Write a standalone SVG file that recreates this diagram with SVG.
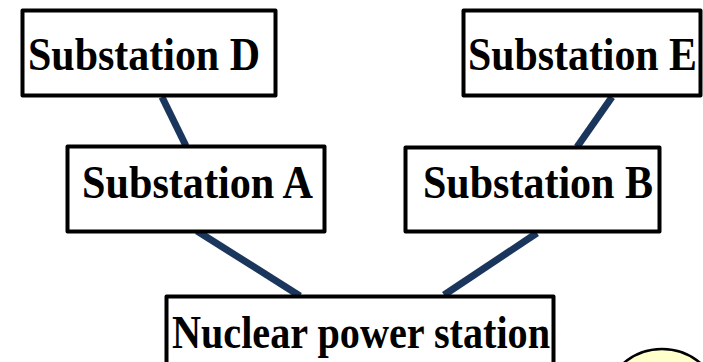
<svg xmlns="http://www.w3.org/2000/svg" width="703" height="362" viewBox="0 0 703 362">
<style>
.box{fill:#fff;stroke:#000;stroke-width:4;stroke-linejoin:round}
.lbl{font-family:"Liberation Serif","Times New Roman",serif;font-weight:bold;font-size:42px;fill:#000}
.wire{stroke:#1b365d;stroke-width:7;stroke-linecap:butt}
</style>
<rect width="703" height="362" fill="#fff"/>
<g id="connectors">
<line class="wire" x1="162" y1="97" x2="186" y2="146"/>
<line class="wire" x1="612" y1="97" x2="577" y2="147"/>
<line class="wire" x1="197" y1="231" x2="300" y2="296"/>
<line class="wire" x1="537" y1="233" x2="444" y2="295"/>
</g>
<g id="substation-d">
<rect class="box" x="22.5" y="10.5" width="253" height="85"/>
<text class="lbl" transform="translate(28,70) scale(1,1.1)" textLength="232" lengthAdjust="spacingAndGlyphs">Substation D</text>
</g>
<g id="substation-e">
<rect class="box" x="463.5" y="10.5" width="237" height="85"/>
<text class="lbl" transform="translate(468,70) scale(1,1.1)" textLength="229" lengthAdjust="spacingAndGlyphs">Substation E</text>
</g>
<g id="substation-a">
<rect class="box" x="67.5" y="146.5" width="257" height="85"/>
<text class="lbl" transform="translate(82,198) scale(1,1.1)" textLength="231" lengthAdjust="spacingAndGlyphs">Substation A</text>
</g>
<g id="substation-b">
<rect class="box" x="405.5" y="147.5" width="254" height="84"/>
<text class="lbl" transform="translate(423,198) scale(1,1.1)" textLength="230" lengthAdjust="spacingAndGlyphs">Substation B</text>
</g>
<g id="nuclear-power-station">
<rect class="box" x="166.5" y="296.5" width="387" height="90"/>
<text class="lbl" transform="translate(172,348) scale(1,1.1)" textLength="378" lengthAdjust="spacingAndGlyphs">Nuclear power station</text>
</g>
<g id="circle-node">
<circle cx="662" cy="408" r="59" fill="#ffffcc" stroke="#000" stroke-width="2.5"/>
</g>
</svg>
